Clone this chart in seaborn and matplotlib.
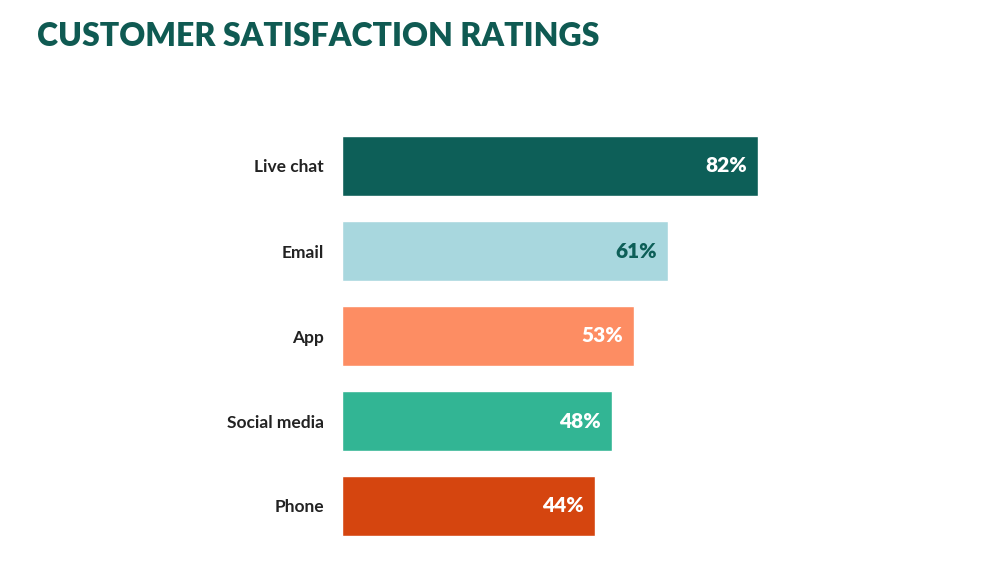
import pandas as pd
import matplotlib
matplotlib.use("Agg")
import matplotlib.pyplot as plt
import seaborn as sns

# Data
channels = ["Live chat", "Email", "App", "Social media", "Phone"]
ratings = [82, 61, 53, 48, 44]
bar_colors = ["#0d5f58", "#a8d7de", "#fd8d63", "#32b594", "#d5450f"]
label_colors = ["white", "#0d5f58", "white", "white", "white"]

# the bars in the reference do not start at zero; they share a baseline offset
baseline = 15

df = pd.DataFrame({"channel": channels, "rating": ratings})
df["length"] = df["rating"] + baseline

sns.set_style("white")
plt.rcParams["font.family"] = ["Lato", "DejaVu Sans"]

fig = plt.figure(figsize=(9.91, 5.68), dpi=100)
ax = fig.add_axes([342 / 991, 19.5 / 568, 458 / 991, 425 / 568])

sns.barplot(data=df, x="length", y="channel", hue="channel", palette=bar_colors,
            width=0.706, legend=False, ax=ax, saturation=1)

px_per_unit = 4.29
ax.set_xlim(0, 458 / px_per_unit)
ax.set_ylim(4.5, -0.5)

for i, (length, rating) in enumerate(zip(df["length"], df["rating"])):
    ax.text(length - 11 / px_per_unit, i, f"{rating}%", ha="right", va="center",
            fontsize=15, fontweight="heavy", color=label_colors[i])

ax.set_xlabel("")
ax.set_ylabel("")
ax.set_xticks([])
ax.tick_params(axis="y", length=0, pad=13)
for lbl in ax.get_yticklabels():
    lbl.set_fontsize(12.5)
    lbl.set_fontweight("bold")
    lbl.set_color("#222222")
sns.despine(ax=ax, left=True, bottom=True)

fig.text(37 / 991, 1 - 37 / 568, "CUSTOMER SATISFACTION RATINGS", ha="left", va="center",
         fontsize=23, fontweight="heavy", color="#0f5a52")

fig.savefig("out.png", dpi=100)
